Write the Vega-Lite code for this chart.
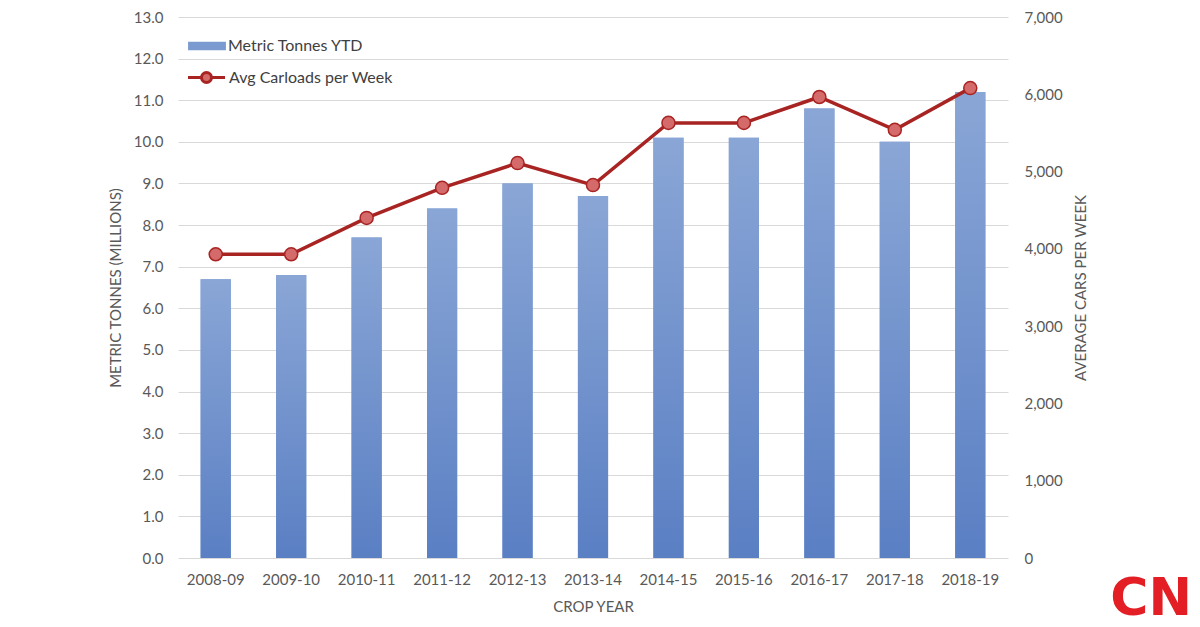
{
  "$schema": "https://vega.github.io/schema/vega-lite/v6.json",
  "width": 830,
  "height": 541,
  "autosize": {"type": "none"},
  "padding": {"left": 178, "top": 17, "right": 192, "bottom": 69},
  "background": "white",
  "config": {
    "view": {"stroke": null},
    "font": "Lato",
    "axis": {"labelFont": "Lato", "titleFont": "Lato", "labelColor": "#595959", "titleColor": "#595959", "labelFontSize": 15, "titleFontSize": 15, "titleFontWeight": "normal"}
  },
  "title": {"text": "CN", "orient": "bottom", "anchor": "end", "frame": "group", "color": "#e31e24", "fontSize": 52, "font": "DejaVu Sans", "fontWeight": "bold", "dx": 184, "offset": -40},
  "data": {"values": [
    {"year": "2008-09", "tonnes": 6.7, "cars": 3930},
    {"year": "2009-10", "tonnes": 6.8, "cars": 3930},
    {"year": "2010-11", "tonnes": 7.7, "cars": 4400},
    {"year": "2011-12", "tonnes": 8.4, "cars": 4790},
    {"year": "2012-13", "tonnes": 9.0, "cars": 5110},
    {"year": "2013-14", "tonnes": 8.7, "cars": 4825},
    {"year": "2014-15", "tonnes": 10.1, "cars": 5630},
    {"year": "2015-16", "tonnes": 10.1, "cars": 5630},
    {"year": "2016-17", "tonnes": 10.8, "cars": 5965},
    {"year": "2017-18", "tonnes": 10.0, "cars": 5540},
    {"year": "2018-19", "tonnes": 11.2, "cars": 6080}
  ]},
  "encoding": {
    "x": {"field": "year", "type": "nominal", "sort": null,
      "scale": {"paddingInner": 0.6, "paddingOuter": 0.3},
      "axis": {"title": "CROP YEAR", "labelAngle": 0, "ticks": false, "domain": false, "labelPadding": 14, "titlePadding": 12}}
  },
  "layer": [
    {
      "mark": {"type": "bar"},
      "encoding": {
        "y": {"field": "tonnes", "type": "quantitative",
          "scale": {"domain": [0, 13]},
          "axis": {"title": "METRIC TONNES (MILLIONS)", "values": [0,1,2,3,4,5,6,7,8,9,10,11,12,13], "format": ".1f", "ticks": false, "domain": false, "labelPadding": 15, "titlePadding": 10, "gridColor": "#d9d9d9"}},
        "fill": {"datum": "Metric Tonnes YTD", "type": "nominal",
          "scale": {"range": ["#7b9bd0"]},
          "legend": {"title": null, "orient": "none", "legendX": 17, "legendY": 17, "labelOffset": 9, "labelLimit": 400, "symbolType": "M-1.6,-0.35H1.6V0.35H-1.6Z", "symbolSize": 560, "labelFontSize": 16, "labelFont": "Lato", "labelColor": "#404040", "symbolStrokeWidth": 0}}
      }
    },
    {
      "mark": {"type": "bar", "color": {"gradient": "linear", "x1": 0, "y1": 0, "x2": 0, "y2": 1, "stops": [{"offset": 0, "color": "#8aa6d6"}, {"offset": 1, "color": "#5a7fc3"}]}},
      "encoding": {
        "y": {"field": "tonnes", "type": "quantitative", "scale": {"domain": [0, 13]}, "axis": null}
      }
    },
    {
      "mark": {"type": "line", "color": "#a82423", "strokeWidth": 3.5, "point": {"filled": true, "fill": "#d46a6a", "stroke": "#a82423", "strokeWidth": 1.5, "size": 170}},
      "encoding": {
        "y": {"field": "cars", "type": "quantitative",
          "scale": {"domain": [0, 7000]},
          "axis": {"title": "AVERAGE CARS PER WEEK", "orient": "right", "titleAngle": 270, "values": [0,1000,2000,3000,4000,5000,6000,7000], "format": ",d", "grid": false, "ticks": false, "domain": false, "labelPadding": 16, "titlePadding": 26}},
        "stroke": {"datum": "Avg Carloads per Week", "type": "nominal",
          "scale": {"range": ["#a82423"]},
          "legend": {"title": null, "orient": "none", "legendX": 8, "legendY": 40, "labelOffset": 2, "labelLimit": 400, "symbolType": "M-1,0H-0.27M0.27,0H1M0.27,0A0.27,0.27 0 1 1 -0.27,0A0.27,0.27 0 1 1 0.27,0", "symbolSize": 1370, "symbolStrokeWidth": 3, "symbolFillColor": "#d46a6a", "labelFontSize": 16, "labelFont": "Lato", "labelColor": "#404040"}}
      }
    }
  ],
  "resolve": {"scale": {"y": "independent", "fill": "independent", "stroke": "independent"}}
}
